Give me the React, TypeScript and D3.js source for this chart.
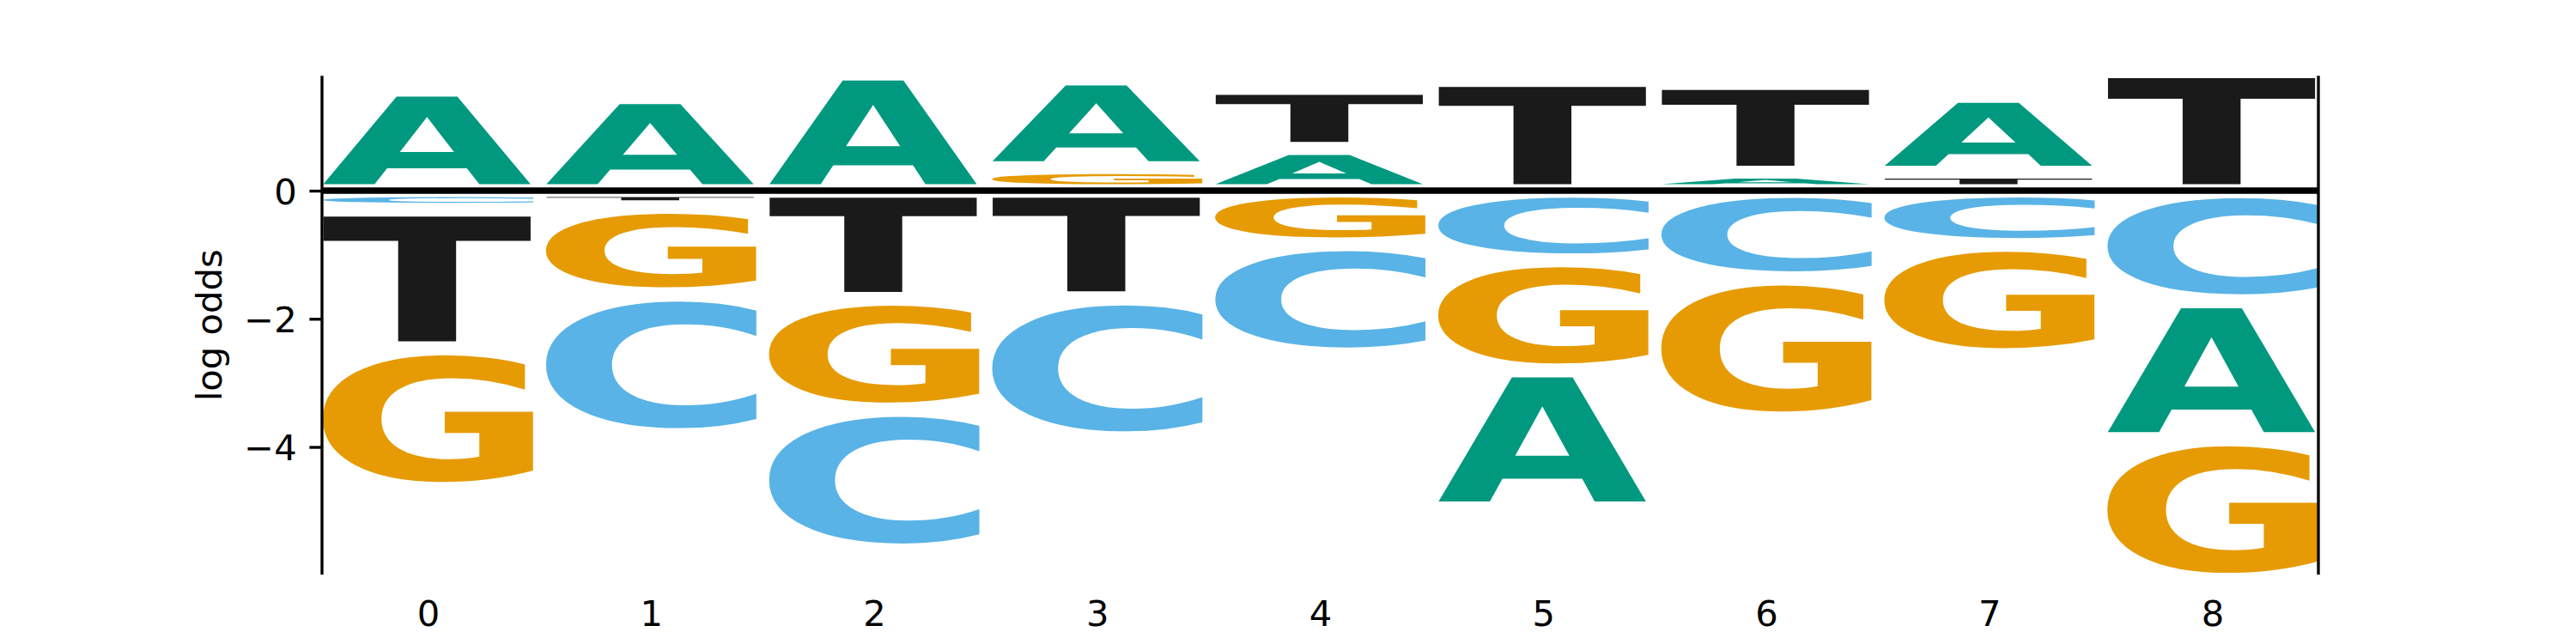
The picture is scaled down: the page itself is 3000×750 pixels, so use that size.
import { useEffect, useRef } from "react"
import * as d3 from "d3"

// positions of the logo
const positions = [0, 1, 2, 3, 4, 5, 6, 7, 8]
const letters = ["A", "C", "G", "T"]

// log odds per letter, one value per position
const valuesA = [1.58, 1.46, 1.83, 1.39, 0.66, -2.15, 0.29, 1.19, -2.15]
const valuesC = [-0.29, -2.2, -2.2, -2.19, -1.72, -1.08, -1.36, -0.84, -1.72]
const valuesG = [-2.2, -1.36, -1.73, 0.36, -0.83, -1.72, -2.19, -1.72, -2.2]
const valuesT = [-2.16, -0.25, -1.68, -1.67, 0.94, 1.73, 1.39, 0.29, 1.87]

const yTicks = [0, -2, -4]
const yLabel = "log odds"

const letterColors: Record<string, string> = {
  A: "#009980",
  C: "#59B3E6",
  G: "#E69B04",
  T: "#1A1A1A",
}

type Box = { letter: string; pos: number; lo: number; hi: number }

export default function App() {
  const svgRef = useRef<SVGSVGElement>(null)

  useEffect(() => {
    if (!svgRef.current) return
    const svg = d3.select(svgRef.current)
    svg.selectAll("*").remove()

    const margin = { top: 90, right: 300, bottom: 82.5, left: 375 }
    const width = 3000
    const height = 750
    const vsep = 0.2
    const glyphWidth = 0.95
    const fontSize = 41.7
    const lw = 3.33

    const valueMap: Record<string, number[]> = { A: valuesA, C: valuesC, G: valuesG, T: valuesT }

    // stack letters: smallest magnitude next to zero
    const boxes: Box[] = []
    let maxStack = 0
    let minStack = 0
    positions.forEach((p, i) => {
      const entries = letters.map((l) => ({ letter: l, value: valueMap[l][i] }))
      const pos = entries.filter((e) => e.value > 0).sort((a, b) => a.value - b.value)
      const neg = entries.filter((e) => e.value < 0).sort((a, b) => b.value - a.value)
      let floor = 0
      pos.forEach((e) => {
        boxes.push({ letter: e.letter, pos: p, lo: floor, hi: floor + e.value })
        floor += e.value
      })
      let ceil = 0
      neg.forEach((e) => {
        boxes.push({ letter: e.letter, pos: p, lo: ceil + e.value, hi: ceil })
        ceil += e.value
      })
      maxStack = Math.max(maxStack, floor)
      minStack = Math.min(minStack, ceil)
    })

    const x = d3
      .scaleLinear()
      .domain([positions[0] - glyphWidth / 2, positions[positions.length - 1] + glyphWidth / 2])
      .range([margin.left, width - margin.right])

    const y = d3
      .scaleLinear()
      .domain([minStack + vsep / 2, maxStack - vsep / 2])
      .range([height - margin.bottom, margin.top])

    // ink metrics of each glyph
    const FS = 400
    const canvas = document.createElement("canvas")
    const ctx = canvas.getContext("2d")!
    ctx.font = `bold ${FS}px "DejaVu Sans"`
    const metrics: Record<string, { left: number; right: number; ascent: number; descent: number }> = {}
    letters.forEach((l) => {
      const m = ctx.measureText(l)
      metrics[l] = {
        left: m.actualBoundingBoxLeft,
        right: m.actualBoundingBoxRight,
        ascent: m.actualBoundingBoxAscent,
        descent: m.actualBoundingBoxDescent,
      }
    })

    svg
      .append("defs")
      .append("clipPath")
      .attr("id", "plot-clip")
      .append("rect")
      .attr("x", margin.left)
      .attr("y", margin.top)
      .attr("width", width - margin.left - margin.right)
      .attr("height", height - margin.top - margin.bottom)

    // glyphs
    const glyphs = svg.append("g").attr("clip-path", "url(#plot-clip)")
    boxes.forEach((b) => {
      const gx0 = x(b.pos - glyphWidth / 2)
      const gx1 = x(b.pos + glyphWidth / 2)
      const gTop = y(b.hi - vsep / 2)
      const gBot = y(b.lo + vsep / 2)
      if (gBot - gTop <= 0) return
      const m = metrics[b.letter]
      const sx = (gx1 - gx0) / (m.left + m.right)
      const sy = (gBot - gTop) / (m.ascent + m.descent)
      glyphs
        .append("text")
        .attr("transform", `translate(${gx0},${gTop}) scale(${sx},${sy}) translate(${m.left},${m.ascent})`)
        .attr("font-family", "'DejaVu Sans'")
        .attr("font-weight", "bold")
        .attr("font-size", FS)
        .attr("text-rendering", "geometricPrecision")
        .attr("fill", letterColors[b.letter])
        .text(b.letter)
    })

    // baseline at zero
    svg
      .append("line")
      .attr("x1", x.range()[0])
      .attr("x2", x.range()[1])
      .attr("y1", y(0))
      .attr("y2", y(0))
      .attr("stroke", "black")
      .attr("stroke-width", 7.5)

    // y axis
    const yAxis = d3
      .axisLeft(y)
      .tickValues(yTicks)
      .tickSize(14.6)
      .tickSizeOuter(0)
      .tickPadding(14.6)
      .tickFormat((d) => d3.format("d")(d as number))

    const gy = svg.append("g").attr("transform", `translate(${margin.left},0)`).call(yAxis)
    gy.select(".domain").remove()
    gy.selectAll(".tick line").attr("stroke", "black").attr("stroke-width", lw)
    gy.selectAll(".tick text")
      .attr("font-family", "'DejaVu Sans'")
      .attr("font-size", fontSize)
      .attr("fill", "black")
      .attr("dy", "0.37em")

    // x axis (labels only)
    const xAxis = d3
      .axisBottom(x)
      .tickValues(positions)
      .tickSize(0)
      .tickPadding(32)
      .tickFormat((d) => String(d))
    const gx = svg.append("g").attr("transform", `translate(0,${height - margin.bottom})`).call(xAxis)
    gx.select(".domain").remove()
    gx.selectAll(".tick text").attr("font-family", "'DejaVu Sans'").attr("font-size", fontSize).attr("fill", "black")

    // spines left and right
    ;[margin.left, width - margin.right].forEach((sx) => {
      svg
        .append("line")
        .attr("x1", sx)
        .attr("x2", sx)
        .attr("y1", margin.top)
        .attr("y2", height - margin.bottom)
        .attr("stroke", "black")
        .attr("stroke-width", lw)
        .attr("stroke-linecap", "square")
    })

    // y label
    svg
      .append("text")
      .attr("transform", `translate(258.3,${(margin.top + height - margin.bottom) / 2}) rotate(-90)`)
      .attr("text-anchor", "middle")
      .attr("font-family", "'DejaVu Sans'")
      .attr("font-size", fontSize)
      .attr("fill", "black")
      .text(yLabel)
  }, [])

  return (
    <svg
      ref={svgRef}
      width={3000}
      height={750}
      style={{ position: "absolute", left: 0, top: 0, background: "white" }}
    />
  )
}
